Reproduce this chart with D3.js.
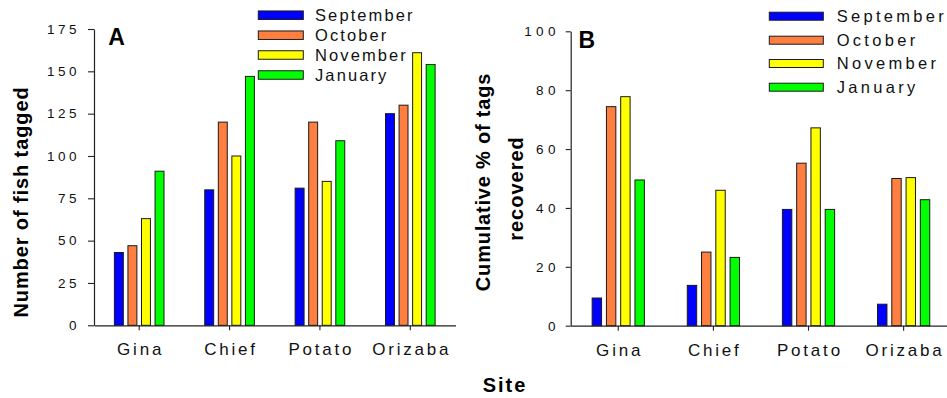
<!DOCTYPE html>
<html>
<head>
<meta charset="utf-8">
<script src="https://cdn.jsdelivr.net/npm/d3@7"></script>
<style>
  html, body { margin: 0; padding: 0; background: #fff; }
  svg { display: block; font-family: "Liberation Sans", Arial, sans-serif; }
</style>
</head>
<body>
<svg id="chart" width="947" height="398"></svg>
<script>
// ---------- DATA ----------
const sites = ["Gina", "Chief", "Potato", "Orizaba"];
const months = ["September", "October", "November", "January"];
const monthColors = ["#0000FF", "#FF7F40", "#FFFF00", "#00FF00"];

// Panel A: Number of fish tagged
const taggedSeptember = [43, 80, 81, 125];
const taggedOctober   = [47, 120, 120, 130];
const taggedNovember  = [63, 100, 85, 161];
const taggedJanuary   = [91, 147, 109, 154];

// Panel B: Cumulative % of tags recovered
const recoveredSeptember = [9.4, 13.7, 39.5, 7.3];
const recoveredOctober   = [74.4, 25.0, 55.2, 50.0];
const recoveredNovember  = [77.8, 46.0, 67.2, 50.3];
const recoveredJanuary   = [49.5, 23.2, 39.5, 42.8];

const ticksA = [0, 25, 50, 75, 100, 125, 150, 175];
const ticksB = [0, 20, 40, 60, 80, 100];

const seriesA = [taggedSeptember, taggedOctober, taggedNovember, taggedJanuary];
const seriesB = [recoveredSeptember, recoveredOctober, recoveredNovember, recoveredJanuary];

// ---------- DRAW ----------
const svg = d3.select("#chart");
const axisColor = "#222";

function panel(cfg) {
  const g = svg.append("g");
  const x0 = d3.scaleBand().domain(sites).range(cfg.xRange).paddingInner(0.4).paddingOuter(0.2);
  const x1 = d3.scaleBand().domain(months).range([0, x0.bandwidth()]).paddingInner(0.34).paddingOuter(0.17);
  const y = d3.scaleLinear().domain(cfg.yDomain).range(cfg.yRange);
  const color = d3.scaleOrdinal().domain(months).range(monthColors);

  const rows = [];
  sites.forEach((s, i) => months.forEach((m, j) => rows.push({ site: s, month: m, value: cfg.series[j][i] })));

  g.selectAll("rect.bar").data(rows).join("rect")
    .attr("class", "bar")
    .attr("x", d => x0(d.site) + x1(d.month))
    .attr("width", x1.bandwidth())
    .attr("y", d => y(d.value))
    .attr("height", d => y(0) - y(d.value))
    .attr("fill", d => color(d.month))
    .attr("stroke", "#1a1a1a")
    .attr("stroke-width", 1);

  // Y axis
  const yAxis = d3.axisLeft(y).tickValues(cfg.ticks).tickSize(cfg.yTickSize).tickPadding(cfg.yTickPad).tickSizeOuter(0);
  const ya = g.append("g").attr("transform", `translate(${cfg.xRange[0]},0)`).call(yAxis);
  ya.select(".domain").attr("stroke", axisColor).attr("stroke-width", 1.2);
  ya.selectAll(".tick line").attr("stroke", axisColor).attr("stroke-width", 1.1);
  ya.selectAll(".tick text")
    .attr("fill", "#111")
    .style("font-size", "13.5px")
    .style("letter-spacing", cfg.yLetterSpacing + "px")
    .style("font-family", "'Liberation Sans', Arial, sans-serif");

  // X axis
  const xAxis = d3.axisBottom(x0).tickSize(5).tickPadding(13).tickSizeOuter(0);
  const xa = g.append("g").attr("transform", `translate(0,${cfg.yRange[0]})`).call(xAxis);
  xa.select(".domain").attr("stroke", axisColor).attr("stroke-width", 1.2);
  xa.selectAll(".tick line").attr("stroke", axisColor).attr("stroke-width", 1.1);
  xa.selectAll(".tick text")
    .attr("fill", "#111")
    .attr("dx", "1.4px")
    .style("font-size", "17px")
    .style("letter-spacing", "2.8px")
    .style("font-family", "'Liberation Sans', Arial, sans-serif");

  // Panel letter
  g.append("text").attr("x", cfg.letterX).attr("y", cfg.letterY)
    .style("font-size", "23px").style("font-weight", "bold").attr("fill", "#000")
    .text(cfg.letter);

  // Legend
  const leg = g.append("g");
  months.forEach((m, i) => {
    const cy = cfg.legCenters[i];
    leg.append("rect")
      .attr("x", cfg.legX).attr("y", cy - cfg.legH / 2)
      .attr("width", cfg.legW).attr("height", cfg.legH)
      .attr("fill", color(m)).attr("stroke", "#1a1a1a").attr("stroke-width", 1);
    leg.append("text")
      .attr("x", cfg.legTextX).attr("y", cy + 5.8)
      .style("font-size", "16.5px")
      .style("letter-spacing", cfg.legSpacing + "px")
      .attr("fill", "#111")
      .text(m);
  });
  return g;
}

panel({
  series: seriesA, ticks: ticksA, yDomain: [0, 175],
  xRange: [94, 455.5], yRange: [325.3, 29],
  yTickSize: 6, yTickPad: 8, yLetterSpacing: 3.5,
  letter: "A", letterX: 108.3, letterY: 45,
  legX: 258.3, legW: 45, legH: 8.5, legCenters: [15.2, 35.2, 55, 75],
  legTextX: 315, legSpacing: 2.1
});

panel({
  series: seriesB, ticks: ticksB, yDomain: [0, 100],
  xRange: [570.7, 951.2], yRange: [325.7, 31.3],
  yTickSize: 5, yTickPad: 6, yLetterSpacing: 4.3,
  letter: "B", letterX: 578.5, letterY: 47.7,
  legX: 769.3, legW: 54, legH: 8, legCenters: [16.2, 40.2, 63.5, 87.2],
  legTextX: 836.7, legSpacing: 3.3
});

// Axis titles
function boldText(x, y, rot, txt, spacing) {
  svg.append("text")
    .attr("transform", `translate(${x},${y}) rotate(${rot})`)
    .attr("text-anchor", "middle")
    .style("font-size", "20px").style("font-weight", "bold")
    .style("letter-spacing", spacing + "px")
    .attr("fill", "#000")
    .text(txt);
}
boldText(27.5, 202, -90, "Number of fish tagged", 0.9);
boldText(490, 182, -90, "Cumulative % of tags", 0.8);
boldText(523, 188.5, -90, "recovered", 1);
boldText(505, 391.5, 0, "Site", 2);
</script>
</body>
</html>
